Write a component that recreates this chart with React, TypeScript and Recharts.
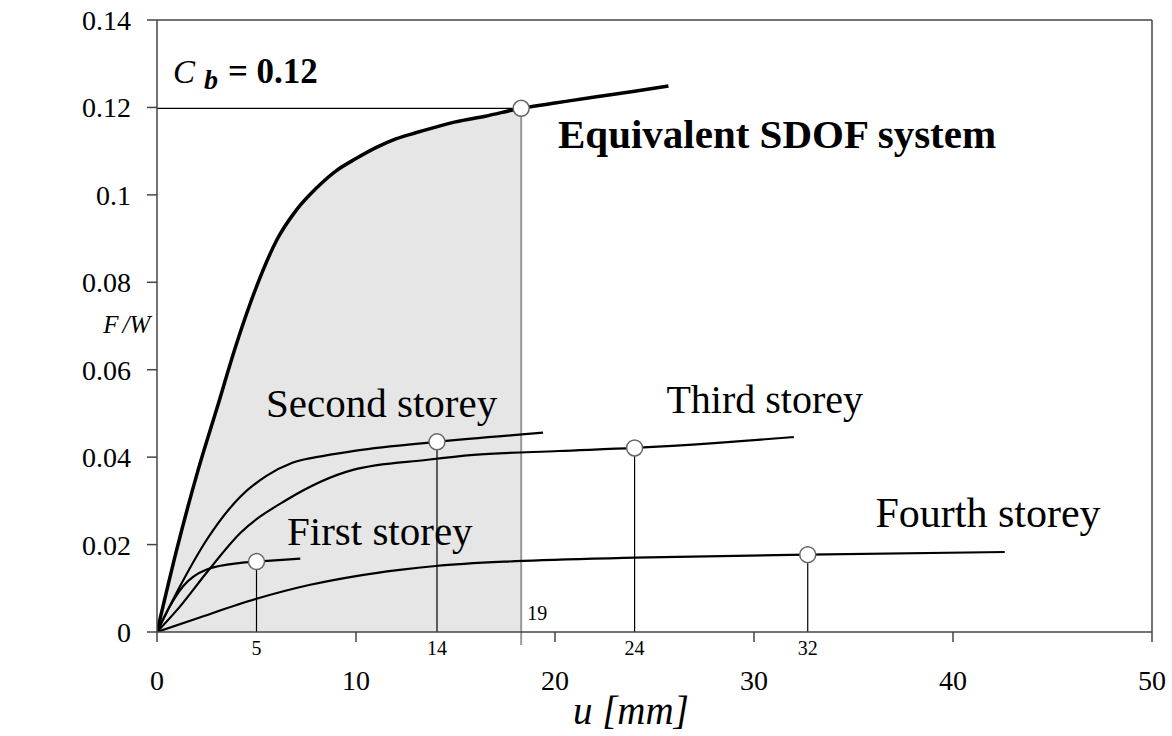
import {
  ComposedChart, Line, Area, XAxis, YAxis,
  ReferenceLine, ReferenceDot,
} from "recharts"

// equivalent SDOF pushover curve [u mm, F/W]
const sdofU = [0, 1, 2, 3, 4, 5, 6, 7, 8, 9, 10, 11, 12, 13, 14, 15, 16.5, 18.3, 20, 22, 24, 25.7]
const sdofV = [0, 0.019, 0.036, 0.051, 0.066, 0.079, 0.0895, 0.0965, 0.1015, 0.1055, 0.1083, 0.1108, 0.1128, 0.1142, 0.1155, 0.1167, 0.118, 0.1198, 0.121, 0.1224, 0.1237, 0.1249]

const firstU = [0, 0.6, 1.3, 2.5, 4.2, 5, 7.2]
const firstV = [0, 0.0055, 0.0104, 0.0143, 0.0158, 0.0161, 0.0168]

const secondU = [0, 1.15, 2.5, 4.2, 5.5, 6.8, 8.5, 10, 14.07, 19.4]
const secondV = [0, 0.0104, 0.0211, 0.031, 0.0357, 0.0387, 0.0404, 0.0415, 0.0435, 0.0456]

const thirdU = [0, 1.15, 2.5, 4.2, 6.5, 9.85, 13.6, 15.9, 20.2, 24, 28, 32]
const thirdV = [0, 0.0058, 0.0136, 0.0227, 0.0302, 0.0371, 0.0394, 0.0405, 0.0414, 0.0421, 0.0432, 0.0446]

const fourthU = [0, 2, 5, 7.7, 10, 12.2, 14, 18, 24, 32.7, 42.6]
const fourthV = [0, 0.0031, 0.0076, 0.0108, 0.0128, 0.0142, 0.0151, 0.0162, 0.017, 0.0177, 0.0183]

// target displacement points
const pointU = [5, 14.07, 24, 32.7]
const pointV = [0.0161, 0.0435, 0.0421, 0.0177]
const pointLabels = ["5", "14", "24", "32"]
const sdofTargetU = 18.3
const sdofTargetV = 0.1198

const xTicks = [0, 10, 20, 30, 40, 50]
const yTicks = [0, 0.02, 0.04, 0.06, 0.08, 0.1, 0.12, 0.14]

const zip = (us: number[], vs: number[]) => us.map((u, i) => ({ u, v: vs[i] }))

const sdof = zip(sdofU, sdofV)
const shaded = sdof.filter((d) => d.u <= sdofTargetU)

const FONT = "'Liberation Serif', 'Times New Roman', serif"
const AXIS = "#444"

function note(text: React.ReactNode, extra: Record<string, any> = {}) {
  return (p: any) => (
    <text x={p.cx} y={p.cy} fontFamily={FONT} fontSize={41} fill="#000" {...extra}>
      {text}
    </text>
  )
}

export default function App() {
  return (
    <div style={{ position: "absolute", left: 0, top: 0, background: "#fff" }}>
      <ComposedChart
        width={1172}
        height={736}
        data={shaded}
        margin={{ top: 20, right: 20, bottom: 0, left: 0 }}
      >
        <XAxis
          dataKey="u"
          type="number"
          domain={[0, 50]}
          ticks={xTicks}
          allowDataOverflow
          height={104}
          stroke={AXIS}
          strokeWidth={1.5}
          tickSize={10}
          tickMargin={28}
          tick={{ fontSize: 28, fill: "#000", fontFamily: FONT }}
        />
        <YAxis
          type="number"
          domain={[0, 0.14]}
          ticks={yTicks}
          allowDataOverflow
          width={157}
          stroke={AXIS}
          strokeWidth={1.5}
          tickSize={10}
          tickMargin={16}
          tickFormatter={(v) => String(+Number(v).toFixed(2))}
          tick={{ fontSize: 28, fill: "#000", fontFamily: FONT }}
        />
        <Area
          dataKey="v"
          type="monotone"
          stroke="none"
          fill="#e6e6e6"
          fillOpacity={1}
          isAnimationActive={false}
        />
        <ReferenceLine y={0.14} stroke={AXIS} strokeWidth={1.5} />
        <ReferenceLine x={50} stroke={AXIS} strokeWidth={1.5} />
        <ReferenceLine
          segment={[{ x: 0, y: sdofTargetV }, { x: sdofTargetU, y: sdofTargetV }]}
          stroke="#000"
          strokeWidth={1.2}
        />
        <ReferenceLine
          segment={[{ x: sdofTargetU, y: -0.003 }, { x: sdofTargetU, y: sdofTargetV }]}
          stroke="#999"
          strokeWidth={2}
          ifOverflow="visible"
        />
        {pointU.map((u, i) => (
          <ReferenceLine
            key={"v" + i}
            segment={[{ x: u, y: 0 }, { x: u, y: pointV[i] }]}
            stroke="#000"
            strokeWidth={1.2}
          />
        ))}
        <Line data={sdof} dataKey="v" type="monotone" stroke="#000" strokeWidth={3.5} dot={false} isAnimationActive={false} />
        <Line data={zip(firstU, firstV)} dataKey="v" type="monotone" stroke="#000" strokeWidth={2.2} dot={false} isAnimationActive={false} />
        <Line data={zip(secondU, secondV)} dataKey="v" type="monotone" stroke="#000" strokeWidth={2.2} dot={false} isAnimationActive={false} />
        <Line data={zip(thirdU, thirdV)} dataKey="v" type="monotone" stroke="#000" strokeWidth={2.2} dot={false} isAnimationActive={false} />
        <Line data={zip(fourthU, fourthV)} dataKey="v" type="monotone" stroke="#000" strokeWidth={2.2} dot={false} isAnimationActive={false} />
        {[...pointU, sdofTargetU].map((u, i) => (
          <ReferenceDot
            key={"p" + i}
            x={u}
            y={i < pointU.length ? pointV[i] : sdofTargetV}
            r={8}
            fill="#fff"
            stroke="#666"
            strokeWidth={1.5}
          />
        ))}
        {pointU.map((u, i) => (
          <ReferenceDot
            key={"l" + i}
            x={u}
            y={-0.0052}
            ifOverflow="visible"
            shape={note(pointLabels[i], { fontSize: 20, textAnchor: "middle" })}
          />
        ))}
        <ReferenceDot x={18.6} y={0.0028} shape={note("19", { fontSize: 20 })} />
        <ReferenceDot x={5.48} y={0.0492} shape={note("Second storey")} />
        <ReferenceDot x={6.53} y={0.02} shape={note("First storey")} />
        <ReferenceDot x={25.6} y={0.0502} shape={note("Third storey", { fontSize: 40 })} />
        <ReferenceDot x={36.1} y={0.0241} shape={note("Fourth storey", { fontSize: 42 })} />
        <ReferenceDot
          x={20.15}
          y={0.1107}
          shape={note("Equivalent SDOF system", { fontWeight: "bold", fontSize: 41 })}
        />
        <ReferenceDot
          x={0.8}
          y={0.1256}
          shape={note(
            <>
              <tspan fontStyle="italic">C</tspan>
              <tspan fontStyle="italic" fontWeight="bold" fontSize={28} dx={9} dy={6}>b</tspan>
              <tspan fontWeight="bold" fontSize={35} dx={10} dy={-6}>= 0.12</tspan>
            </>,
            { fontSize: 33 }
          )}
        />
        <ReferenceDot
          x={-2.7}
          y={0.0684}
          ifOverflow="visible"
          shape={note(
            <>
              <tspan>F</tspan>
              <tspan dx={4}>/W</tspan>
            </>,
            { fontSize: 25, fontStyle: "italic" }
          )}
        />
        <ReferenceDot
          x={20.9}
          y={-0.021}
          ifOverflow="visible"
          shape={note("u [mm]", { fontSize: 39, fontStyle: "italic" })}
        />
      </ComposedChart>
    </div>
  )
}
